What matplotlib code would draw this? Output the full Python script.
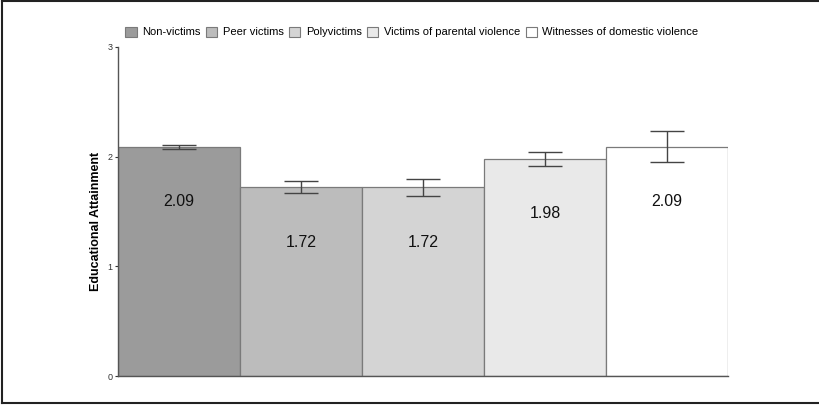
import matplotlib
matplotlib.use("Agg")
import matplotlib.pyplot as plt
from matplotlib.lines import Line2D
from matplotlib.patches import Patch

plt.rcParams["font.family"] = ["Liberation Sans", "DejaVu Sans"]

groups = ["Non-victims", "Peer victims", "Polyvictims",
          "Victims of parental violence", "Witnesses of domestic violence"]
means = [2.09, 1.72, 1.72, 1.98, 2.09]
errors = [0.02, 0.055, 0.075, 0.065, 0.14]
fills = ["#9b9b9b", "#bcbcbc", "#d4d4d4", "#e9e9e9", "#ffffff"]
yticks = [0, 1, 2, 3]

fig = plt.figure(figsize=(8.19, 4.05), dpi=100)
ax = fig.add_axes([118 / 819, 1 - 376 / 405, 610 / 819, 329 / 405])

x = list(range(len(groups)))
ax.bar(x, means, width=1.0, color=fills, edgecolor="#7a7a7a", linewidth=0.9,
       zorder=2)
ax.errorbar(x, means, yerr=errors, fmt="none", ecolor="#444444",
            elinewidth=1.0, capsize=12, capthick=1.0, zorder=3)
for xi, m in zip(x, means):
    ax.text(xi, m - 0.5, f"{m:.2f}", ha="center", va="center",
            fontsize=11.5, color="#111111", zorder=4)

ax.set_xlim(-0.5, 4.5)
ax.set_ylim(0, 3)
ax.set_yticks(yticks)
ax.set_yticklabels([str(t) for t in yticks], fontsize=6.5)
ax.set_xticks([])
ax.tick_params(axis="y", length=2.5, width=0.8, pad=1.5, colors="#333333")
for side in ("top", "right"):
    ax.spines[side].set_visible(False)
for side in ("left", "bottom"):
    ax.spines[side].set_color("#555555")
    ax.spines[side].set_linewidth(1.0)
ax.set_ylabel("Educational Attainment", fontsize=9, fontweight="bold",
              labelpad=3)
ax.yaxis.set_label_coords(-0.027, 0.47)

handles = [Patch(facecolor=c, edgecolor="#7a7a7a", linewidth=0.8) for c in fills]
fig.legend(handles, groups, loc="center", bbox_to_anchor=(412 / 819, 1 - 32 / 405),
           ncol=5, frameon=False, fontsize=8, handlelength=1.0,
           handleheight=1.0, handletextpad=0.5, columnspacing=0.5)

# figure frame
frame_kw = dict(color="#222222", linewidth=1.5, transform=fig.transFigure)
fig.add_artist(Line2D([0.002, 1], [0.997, 0.997], **frame_kw))
fig.add_artist(Line2D([0.003, 0.003], [0.005, 0.997], **frame_kw))
fig.add_artist(Line2D([0.002, 1], [0.005, 0.005], **frame_kw))

fig.savefig("out.png", dpi=100)
